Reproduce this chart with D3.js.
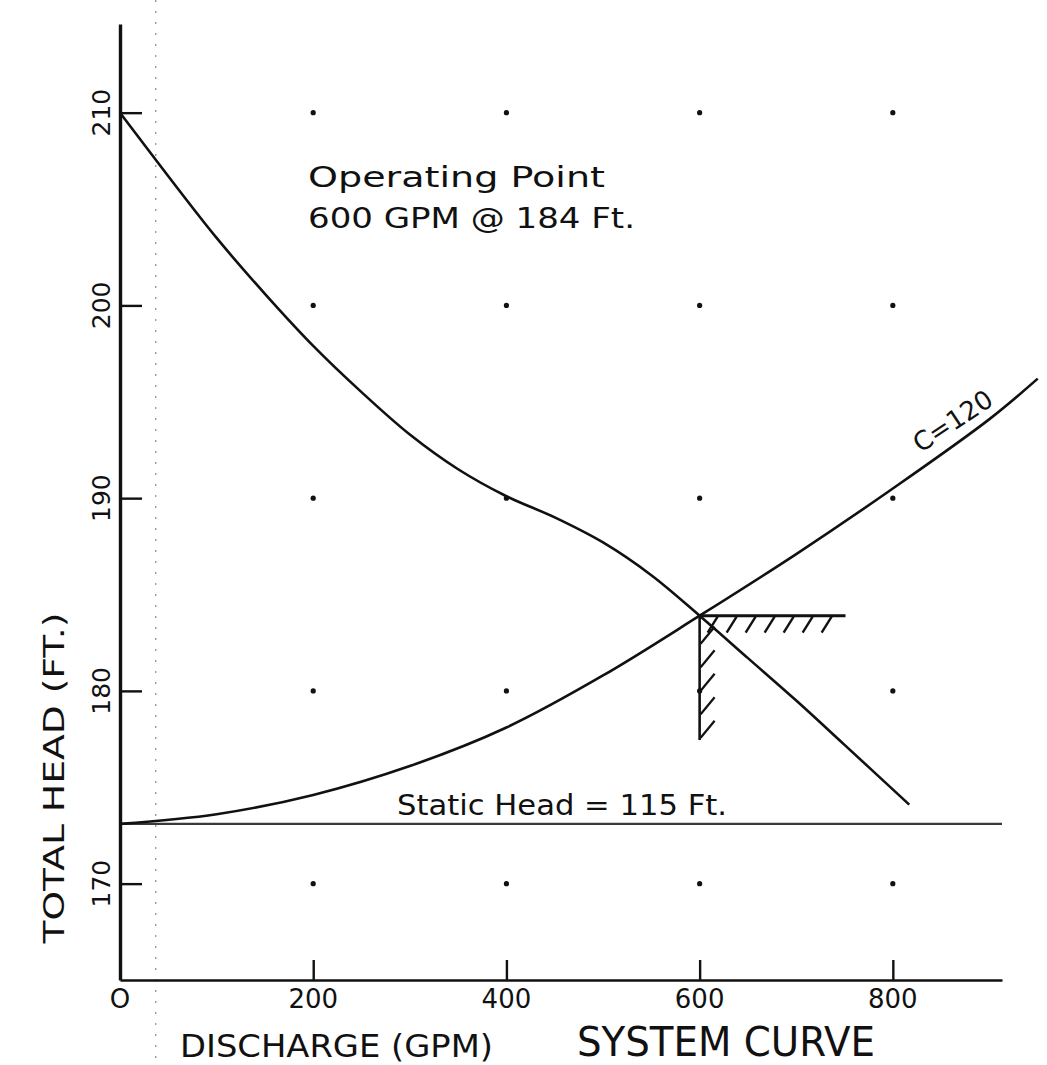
<!DOCTYPE html>
<html>
<head>
<meta charset="utf-8">
<title>System Curve</title>
<script src="https://cdn.jsdelivr.net/npm/d3@7"></script>
<style>
  html, body { margin: 0; padding: 0; background: #fff; }
  svg { display: block; }
  text { font-family: "DejaVu Sans", "Liberation Sans", sans-serif; fill: #111; }
</style>
</head>
<body>
<svg id="chart" width="1047" height="1065"></svg>
<script>
// ---- data ----
const xTicks = [0, 200, 400, 600, 800];
const yTicks = [170, 180, 190, 200, 210];

// pump head-capacity curve (GPM, ft)
const pumpGpm  = [0, 50, 100, 150, 200, 250, 300, 350, 400, 450, 500, 550, 600, 650, 700, 750, 817];
const pumpHead = [210, 206.7, 203.5, 200.6, 197.9, 195.5, 193.3, 191.5, 190.1, 189.0, 187.7, 186.0, 183.9, 181.7, 179.5, 177.2, 174.1];

// system curve, C = 120 (GPM, ft)
const systemGpm  = [0, 100, 200, 300, 400, 500, 600, 700, 800, 900, 950];
const systemHead = [173.1, 173.6, 174.6, 176.1, 178.1, 180.8, 183.9, 187.1, 190.5, 194.1, 196.2];

const staticHead = 173.1;          // level of the static head line
const opGpm = 600, opHead = 183.9; // operating point
const hatchEndGpm = 751;           // end of the hatched horizontal leader
const hatchLowHead = 177.45;       // bottom of the hatched vertical leader
const foldGpm = 37;                // faint dotted guide near the axis

// ---- layout ----
const svg = d3.select("#chart");
const x = d3.scaleLinear().domain([0, 913]).range([120, 1002]);
const y = d3.scaleLinear().domain([165, 214.6]).range([980, 24]);

// faint dotted guide line
svg.append("line")
  .attr("x1", x(foldGpm)).attr("x2", x(foldGpm))
  .attr("y1", 0).attr("y2", 1065)
  .attr("stroke", "#8a8a8a").attr("stroke-width", 1.2)
  .attr("stroke-dasharray", "2,9");

// grid dots
const dots = [];
xTicks.filter(v => v > 0).forEach(gx => yTicks.forEach(gy => dots.push([gx, gy])));
svg.append("g").selectAll("circle").data(dots).join("circle")
  .attr("cx", d => x(d[0])).attr("cy", d => y(d[1]))
  .attr("r", 2.6).attr("fill", "#111");

// x axis
const xAxis = svg.append("g")
  .attr("transform", `translate(0,${y(165)})`)
  .call(d3.axisBottom(x).tickValues(xTicks).tickSize(-20).tickSizeOuter(0).tickFormat(""));
xAxis.select(".domain").attr("stroke", "#111").attr("stroke-width", 2.6);
xAxis.selectAll(".tick line").attr("stroke", "#111").attr("stroke-width", 2.4);
xAxis.selectAll(".tick").filter(d => d === 0).remove();

svg.append("g").selectAll("text").data(xTicks).join("text")
  .attr("x", d => x(d)).attr("y", 1008)
  .attr("text-anchor", "middle")
  .attr("font-size", 26)
  .text(d => d === 0 ? "O" : d);

// y axis
const yAxis = svg.append("g")
  .attr("transform", `translate(${x(0)},0)`)
  .call(d3.axisLeft(y).tickValues(yTicks).tickSize(-22).tickSizeOuter(0).tickFormat(""));
yAxis.select(".domain").attr("stroke", "#111").attr("stroke-width", 3.4);
yAxis.selectAll(".tick line").attr("stroke", "#111").attr("stroke-width", 2.4);

svg.append("g").selectAll("text").data(yTicks).join("text")
  .attr("transform", d => `translate(110,${y(d)}) rotate(-90)`)
  .attr("text-anchor", "middle")
  .attr("font-size", 25)
  .text(d => d);

// static head line
svg.append("line")
  .attr("x1", x(0)).attr("x2", x(913))
  .attr("y1", y(staticHead)).attr("y2", y(staticHead))
  .attr("stroke", "#3a3a3a").attr("stroke-width", 2.2);

// curves
const line = d3.line().x(d => x(d[0])).y(d => y(d[1])).curve(d3.curveCatmullRom.alpha(0.5));
svg.append("path")
  .datum(pumpGpm.map((g, i) => [g, pumpHead[i]]))
  .attr("d", line).attr("fill", "none")
  .attr("stroke", "#111").attr("stroke-width", 2.6);
svg.append("path")
  .datum(systemGpm.map((g, i) => [g, systemHead[i]]))
  .attr("d", line).attr("fill", "none")
  .attr("stroke", "#111").attr("stroke-width", 2.6);

// hatched leaders from the operating point
const px = x(opGpm), py = y(opHead);
const hatch = svg.append("g").attr("stroke", "#111").attr("fill", "none");
hatch.append("line").attr("x1", px).attr("x2", x(hatchEndGpm))
  .attr("y1", py).attr("y2", py).attr("stroke-width", 3);
hatch.append("line").attr("x1", px).attr("x2", px)
  .attr("y1", py).attr("y2", y(hatchLowHead)).attr("stroke-width", 2.6);
// strokes beneath the horizontal leader
const hStarts = d3.range(px + 18, x(hatchEndGpm) - 8, 19);
hatch.selectAll(".hh").data(hStarts).join("line").attr("class", "hh")
  .attr("x1", d => d).attr("y1", py + 1)
  .attr("x2", d => d - 10).attr("y2", py + 17)
  .attr("stroke-width", 2.4);
// strokes right of the vertical leader
const vStarts = d3.range(py + 28, y(hatchLowHead) + 1, 23.5);
hatch.selectAll(".vh").data(vStarts).join("line").attr("class", "vh")
  .attr("x1", px + 1).attr("y1", d => d)
  .attr("x2", px + 15).attr("y2", d => d - 17)
  .attr("stroke-width", 2.2);

// annotations
svg.append("text").attr("x", 308).attr("y", 187)
  .attr("font-size", 28).attr("textLength", 297).attr("lengthAdjust", "spacingAndGlyphs")
  .text("Operating Point");
svg.append("text").attr("x", 308).attr("y", 228)
  .attr("font-size", 28).attr("textLength", 327).attr("lengthAdjust", "spacingAndGlyphs")
  .text(`${opGpm} GPM @ 184 Ft.`);
svg.append("text").attr("x", 397).attr("y", 815)
  .attr("font-size", 29).attr("textLength", 330).attr("lengthAdjust", "spacingAndGlyphs")
  .text("Static Head = 115 Ft.");
svg.append("text")
  .attr("transform", `translate(${x(862)},${y(194.0)}) rotate(-33.5)`)
  .attr("text-anchor", "middle").attr("dy", "0.35em")
  .attr("font-size", 26)
  .text("C=120");

// axis titles
svg.append("text")
  .attr("transform", "translate(64,778) rotate(-90)")
  .attr("text-anchor", "middle")
  .attr("font-size", 28).attr("textLength", 331).attr("lengthAdjust", "spacingAndGlyphs")
  .text("TOTAL HEAD (FT.)");
svg.append("text").attr("x", 180).attr("y", 1057)
  .attr("font-size", 32).attr("textLength", 313).attr("lengthAdjust", "spacingAndGlyphs")
  .text("DISCHARGE (GPM)");
svg.append("text").attr("x", 577).attr("y", 1056)
  .attr("font-size", 40).attr("textLength", 298).attr("lengthAdjust", "spacingAndGlyphs")
  .text("SYSTEM CURVE");
</script>
</body>
</html>
